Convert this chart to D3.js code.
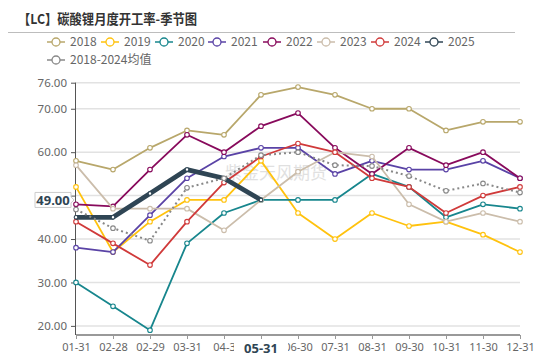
<!DOCTYPE html>
<html><head><meta charset="utf-8">
<script src="https://cdn.jsdelivr.net/npm/d3@7/dist/d3.min.js"></script>
<style>
html,body{margin:0;padding:0;background:#fff;}
svg{display:block;font-family:"Noto Sans","Open Sans",sans-serif;}
</style></head>
<body><svg id="c" width="550" height="355"></svg>
<script>
const title = "【LC】碳酸锂月度开工率-季节图";
const watermark = "紫金天风期货";
const categories = ["01-31","02-28","02-29","03-31","04-3","05-31","06-30","07-31","08-31","09-30","10-31","11-30","12-31"];
const yTicks = [20,30,40,50,60,70,76];
const seriesNames = ["2018","2019","2020","2021","2022","2023","2024","2025","2018-2024均值"];
const s2018 = [58,56,61,65,64,73.2,75,73.2,70,70,65,67,67];
const s2019 = [52,37,44,49,49,58,46,40,46,43,44,41,37];
const s2020 = [30,24.5,19,39,46,49,49,49,55,52,45,48,47];
const s2021 = [38,37,45.5,54,59,61,61,55,58,56,56,58,54];
const s2022 = [48,47.5,56,64,60,66,69,61,55,61,57,60,54];
const s2023 = [57,47,47,47,42,49,55.5,60,59,48,44,46,44];
const s2024 = [44,39,34,44,53,59,62,60,54,52,46,50,52];
const s2025 = [45,45,50.5,56,54,49];
const sAvg = [46.8,42.5,39.6,51.8,54,59.3,60,57,56.8,54.5,51.1,52.8,50.7];
const pointerIndex = 5;

const colors = ["#b8a76b","#ffc20e","#17868d","#5a43a6","#880a5c","#cbbdab","#d03a3a","#2f4554","#888888"];
const seriesData = [s2018,s2019,s2020,s2021,s2022,s2023,s2024,s2025,sAvg];

const svg = d3.select("#c");
const L = 76, R = 520, T = 82.7, B = 335;
const x = d3.scalePoint().domain(categories).range([L, R]);
const y = d3.scaleLinear().domain([17.9, 76]).range([B, T]);

// title
svg.append("text").attr("x",18).attr("y",24).attr("font-family","'Noto Sans CJK SC',sans-serif")
  .attr("font-weight","bold").attr("font-size",13.5).attr("fill","#333")
  .attr("textLength",179).attr("lengthAdjust","spacingAndGlyphs").text(title);
svg.append("line").attr("x1",8).attr("x2",515).attr("y1",32.5).attr("y2",32.5).attr("stroke","#bdbdbd").attr("stroke-width",1);

// legend
const legPos = [[47,42],[101,42],[155,42],[208,42],[263,42],[317,42],[371,42],[425,42],[47,60]];
seriesNames.forEach((n,i)=>{
  const [lx,ly] = legPos[i];
  const g = svg.append("g").attr("transform",`translate(${lx},${ly})`);
  g.append("line").attr("x1",0).attr("x2",18).attr("y1",0).attr("y2",0).attr("stroke",colors[i]).attr("stroke-width",1.5);
  g.append("circle").attr("cx",9).attr("cy",0).attr("r",4).attr("fill","#fff").attr("stroke",colors[i]).attr("stroke-width",1.3);
  g.append("text").attr("x",23).attr("y",4.3).attr("font-size",12).attr("fill","#666")
    .attr("font-family","'Noto Sans CJK SC','Noto Sans',sans-serif").text(n);
});

// grid
svg.append("g").selectAll("line").data(yTicks).join("line")
  .attr("x1",L).attr("x2",R).attr("y1",d=>y(d)).attr("y2",d=>y(d))
  .attr("stroke","#e2e2e2").attr("stroke-width",1.5);

// watermark
svg.append("text").attr("x",276).attr("y",179).attr("text-anchor","middle")
  .attr("font-family","'Noto Sans CJK SC',sans-serif").attr("font-size",17)
  .attr("fill","#c8c8c8").attr("opacity",0.55).text(watermark);

// y axis
const yAxis = svg.append("g").attr("transform",`translate(${L},0)`)
  .call(d3.axisLeft(y).tickValues(yTicks).tickSize(5).tickPadding(4)
    .tickFormat(d=> d===50 ? "" : d3.format(".2f")(d)));
yAxis.select(".domain").attr("stroke","#555").attr("stroke-width",1).attr("d",`M-0.5,${T}V${B}`);
yAxis.selectAll(".tick line").attr("stroke","#555");
yAxis.selectAll(".tick text").attr("font-size",11.5).attr("fill","#666").attr("font-family","'Noto Sans',sans-serif");

// x axis
const xAxis = svg.append("g").attr("transform",`translate(0,${B})`)
  .call(d3.axisBottom(x).tickSize(4).tickPadding(4)
    .tickFormat(d=> d===categories[pointerIndex] ? "" : d));
xAxis.select(".domain").attr("stroke","#999").attr("stroke-width",2).attr("d",`M${L},0H${R}`);
xAxis.selectAll(".tick line").attr("stroke","#999");
xAxis.selectAll(".tick text").attr("font-size",11).attr("fill","#666").attr("font-family","'Noto Sans',sans-serif");

// series
const line = d3.line().x((d,i)=>x(categories[i])).y(d=>y(d));
seriesData.forEach((data,i)=>{
  const isAvg = i===8, is25 = i===7;
  svg.append("path").datum(data).attr("d",line).attr("fill","none")
    .attr("stroke",colors[i]).attr("stroke-width", is25?4.8:(isAvg?2:1.8))
    .attr("stroke-dasharray", isAvg?"2,3":null).attr("stroke-linejoin","round");
  svg.append("g").selectAll("circle").data(data).join("circle")
    .attr("cx",(d,j)=>x(categories[j])).attr("cy",d=>y(d)).attr("r",is25?1.8:2.3)
    .attr("fill","#fff").attr("stroke",colors[i]).attr("stroke-width",1.1);
});

// axis pointer labels
const pv = s2025[pointerIndex];
const py = y(pv);
const pg = svg.append("g");
pg.append("path").attr("d",`M35,${py-7.5}H71V${py-3}L74,${py}L71,${py+3}V${py+7.5}H35Z`)
  .attr("fill","#fff").attr("stroke","#ccc").attr("stroke-width",1);
pg.append("text").attr("x",53).attr("y",py+4.8).attr("text-anchor","middle")
  .attr("font-size",13).attr("font-weight","bold").attr("fill","#2f4554")
  .attr("font-family","'Noto Sans',sans-serif").text(d3.format(".2f")(pv));
const px = x(categories[pointerIndex]);
pg.append("rect").attr("x",px-27).attr("y",B+5).attr("width",54).attr("height",18).attr("fill","#fff");
pg.append("text").attr("x",px).attr("y",B+17.5).attr("text-anchor","middle")
  .attr("font-size",13).attr("font-weight","bold").attr("fill","#2f4554")
  .attr("font-family","'Noto Sans',sans-serif").text(categories[pointerIndex]);
</script></body></html>
